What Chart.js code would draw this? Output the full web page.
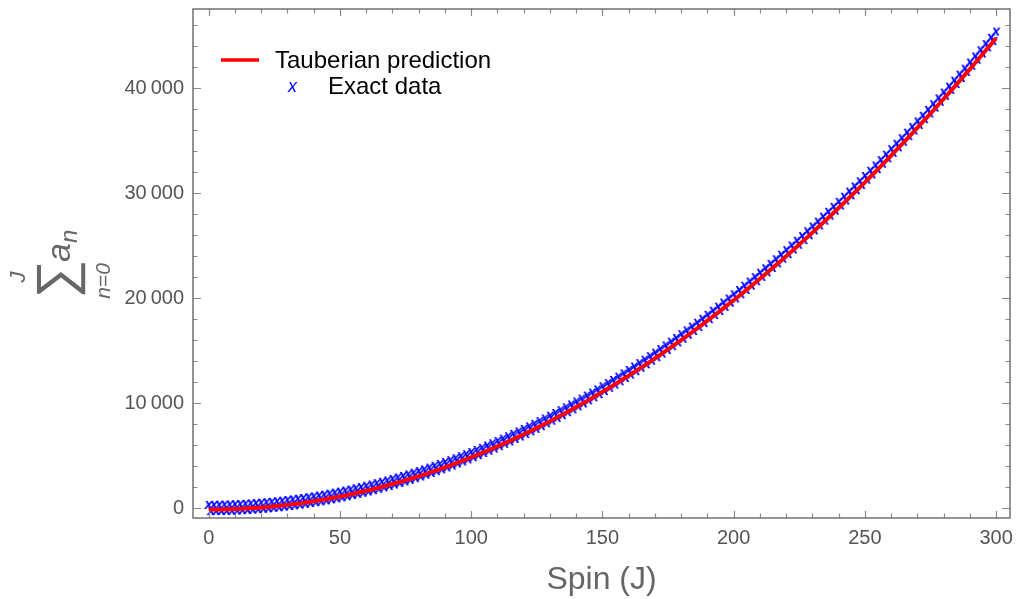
<!DOCTYPE html>
<html>
<head>
<meta charset="utf-8">
<script src="https://cdn.jsdelivr.net/npm/chart.js@4.4.0/dist/chart.umd.min.js"></script>
<style>
  html, body { margin: 0; padding: 0; background: #fff; }
  #wrap { width: 1016px; height: 599px; }
</style>
</head>
<body>
<div id="wrap"><canvas id="chart" width="1016" height="599"></canvas></div>
<script>
// Tauberian prediction, sampled every 5 in spin
const predictionSpin = [0, 5, 10, 15, 20, 25, 30, 35, 40, 45, 50, 55, 60, 65, 70, 75, 80, 85, 90, 95,
  100, 105, 110, 115, 120, 125, 130, 135, 140, 145, 150, 155, 160, 165, 170, 175, 180, 185, 190, 195,
  200, 205, 210, 215, 220, 225, 230, 235, 240, 245, 250, 255, 260, 265, 270, 275, 280, 285, 290, 295, 300];
const predictionSum = [-140, -129, -93, -32, 54, 165, 301, 462, 648, 859, 1095, 1356, 1642, 1953, 2289, 2650, 3036, 3447, 3883, 4344,
  4830, 5341, 5877, 6438, 7024, 7635, 8271, 8932, 9618, 10329, 11065, 11826, 12612, 13423, 14259, 15120, 16006, 16917, 17853, 18814,
  19800, 20811, 21847, 22908, 23994, 25105, 26241, 27402, 28588, 29799, 31035, 32296, 33582, 34893, 36229, 37590, 38976, 40387, 41823, 43284, 44770];

// Exact partial sums, one per spin J = 0 .. 300
const exactSum = [
  300, -299, 303, -294, 309, -286, 320, -273, 335, -256,
  353, -236, 376, -211, 403, -182, 433, -150, 468, -113,
  507, -72, 549, -28, 596, 21, 647, 74, 701, 130,
  760, 191, 823, 256, 889, 324, 960, 397, 1035, 474,
  1113, 554, 1196, 639, 1283, 728, 1373, 820, 1468, 917,
  1567, 1018, 1669, 1122, 1776, 1231, 1887, 1344, 2001, 1460,
  2120, 1581, 2243, 1706, 2369, 1834, 2500, 1967, 2635, 2104,
  2773, 2244, 2916, 2389, 3063, 2538, 3213, 2690, 3368, 2847,
  3527, 3008, 3689, 3172, 3856, 3341, 4027, 3514, 4201, 3690,
  4380, 3871, 4563, 4056, 4749, 4244, 4940, 4437, 5135, 4634,
  5333, 4834, 5536, 5039, 5743, 5248, 5953, 5460, 6168, 5677,
  6387, 5898, 6609, 6122, 6836, 6351, 7067, 6584, 7301, 6820,
  7540, 7061, 7783, 7306, 8029, 7554, 8280, 7807, 8535, 8064,
  8793, 8324, 9056, 8589, 9323, 8858, 9593, 9130, 9868, 9407,
  10147, 9688, 10429, 9972, 10716, 10261, 11007, 10554, 11301, 10850,
  11600, 11151, 11903, 11456, 12209, 11764, 12520, 12077, 12835, 12394,
  13153, 12714, 13476, 13039, 13803, 13368, 14133, 13700, 14468, 14037,
  14807, 14378, 15149, 14722, 15496, 15071, 15847, 15424, 16201, 15780,
  16560, 16141, 16923, 16506, 17289, 16874, 17660, 17247, 18035, 17624,
  18413, 18004, 18796, 18389, 19183, 18778, 19573, 19170, 19968, 19567,
  20367, 19968, 20769, 20372, 21176, 20781, 21587, 21194, 22001, 21610,
  22420, 22031, 22843, 22456, 23269, 22884, 23700, 23317, 24135, 23754,
  24573, 24194, 25016, 24639, 25463, 25088, 25913, 25540, 26368, 25997,
  26827, 26458, 27289, 26922, 27756, 27391, 28227, 27864, 28701, 28340,
  29180, 28821, 29663, 29306, 30149, 29794, 30640, 30287, 31135, 30784,
  31633, 31284, 32136, 31789, 32643, 32298, 33153, 32810, 33668, 33327,
  34187, 33848, 34709, 34372, 35236, 34901, 35767, 35434, 36301, 35970,
  36840, 36511, 37383, 37056, 37929, 37604, 38480, 38157, 39035, 38714,
  39593, 39274, 40156, 39839, 40723, 40408, 41293, 40980, 41868, 41557,
  42447, 42138, 43029, 42722, 43616, 43311, 44207, 43904, 44801, 44500,
  45400
];
const exactSpin = exactSum.map((_, j) => j);

const xTicks = [0, 50, 100, 150, 200, 250, 300];
const yTicks = [0, 10000, 20000, 30000, 40000];
const seriesNames = ['Tauberian prediction', 'Exact data'];
const xTitle = 'Spin (J)';

const FONT = '"Liberation Sans", Arial, Helvetica, sans-serif';
const GRAY = '#676767';

// blue italic "x" used as the point marker
function makeMarker(size) {
  const c = document.createElement('canvas');
  c.width = 14; c.height = 14;
  const g = c.getContext('2d');
  g.fillStyle = '#0000ff';
  g.font = 'italic bold ' + size + 'px ' + FONT;
  g.textAlign = 'center';
  g.textBaseline = 'alphabetic';
  g.fillText('x', 7, 7 + size * 0.26);
  return c;
}
const marker = makeMarker(15);

const fmt = v => v === 0 ? '0' : String(v).replace(/\B(?=(\d{3})+(?!\d))/g, '\u2009');

// Mathematica-style frame with inward ticks, legend and the y label
const decorations = {
  id: 'decorations',
  afterDatasetsDraw(chart) {
    const ctx = chart.ctx;
    const xs = chart.scales.x, ys = chart.scales.y;
    const { left, right, top, bottom } = chart.chartArea;
    ctx.save();
    ctx.strokeStyle = '#8a8a8a';
    ctx.lineWidth = 1.2;
    ctx.beginPath();
    for (let v = 0; v <= 300; v += 10) {
      const px = Math.round(xs.getPixelForValue(v)) + 0.5;
      const len = v % 50 === 0 ? 7 : 4.5;
      ctx.moveTo(px, bottom); ctx.lineTo(px, bottom - len);
      ctx.moveTo(px, top); ctx.lineTo(px, top + len);
    }
    for (let v = 0; v <= 46000; v += 2000) {
      const py = Math.round(ys.getPixelForValue(v)) + 0.5;
      const len = v % 10000 === 0 ? 8 : 4.5;
      ctx.moveTo(left, py); ctx.lineTo(left + len, py);
      ctx.moveTo(right, py); ctx.lineTo(right - len, py);
    }
    ctx.stroke();
    ctx.strokeStyle = GRAY;
    ctx.lineWidth = 1.4;
    ctx.strokeRect(left, top, right - left, bottom - top);

    // legend
    ctx.strokeStyle = '#ff0000';
    ctx.lineWidth = 3.5;
    ctx.beginPath(); ctx.moveTo(221, 60); ctx.lineTo(259, 60); ctx.stroke();
    ctx.fillStyle = '#000';
    ctx.font = '24px ' + FONT;
    ctx.textAlign = 'left';
    ctx.textBaseline = 'alphabetic';
    ctx.fillText(seriesNames[0], 275, 68);
    ctx.fillText(seriesNames[1], 328, 94);
    ctx.fillStyle = '#0000ff';
    ctx.font = 'italic 18px ' + FONT;
    ctx.fillText('x', 288, 92);

    // y label: sum_{n=0}^{J} a_n, rotated
    ctx.translate(60, 265);
    ctx.rotate(-Math.PI / 2);
    ctx.fillStyle = GRAY;
    ctx.textAlign = 'center';
    ctx.textBaseline = 'middle';
    ctx.font = '200 54px "DejaVu Sans", sans-serif';
    ctx.fillText('\u2211', -14, 0);
    ctx.textBaseline = 'alphabetic';
    ctx.font = 'italic 22px ' + FONT;
    ctx.fillText('J', -12, -35);
    ctx.font = 'italic 21px ' + FONT;
    ctx.fillText('n=0', -16, 50);
    ctx.textAlign = 'left';
    ctx.font = 'italic 34px ' + FONT;
    ctx.fillText('a', 3, 10);
    ctx.font = 'italic 24px ' + FONT;
    ctx.fillText('n', 22, 17);
    ctx.restore();
  }
};

new Chart(document.getElementById('chart'), {
  type: 'scatter',
  data: {
    datasets: [
      {
        label: seriesNames[0],
        data: predictionSpin.map((j, i) => ({ x: j, y: predictionSum[i] })),
        showLine: true,
        borderColor: '#ff0000',
        borderWidth: 4,
        pointRadius: 0,
        tension: 0.3
      },
      {
        label: seriesNames[1],
        data: exactSpin.map((j, i) => ({ x: j, y: exactSum[i] })),
        showLine: false,
        pointStyle: marker,
        pointRadius: 5
      }
    ]
  },
  options: {
    responsive: false,
    animation: false,
    layout: { padding: { top: 9, right: 2, left: 0, bottom: 0 } },
    plugins: { legend: { display: false }, tooltip: { enabled: false } },
    scales: {
      x: {
        type: 'linear',
        min: -6, max: 305.3,
        grid: { display: false, drawTicks: false },
        border: { display: false },
        afterBuildTicks(s) { s.ticks = xTicks.map(v => ({ value: v })); },
        ticks: { autoSkip: false, maxRotation: 0, padding: 8,
          color: '#555', font: { family: FONT, size: 20 }, callback: fmt },
        title: { display: true, text: xTitle, color: '#666', font: { family: FONT, size: 32 }, padding: { top: 0, bottom: 0 } },
        afterFit(s) { s.height = 81; s.paddingLeft = 0; s.paddingRight = 0; }
      },
      y: {
        type: 'linear',
        min: -950, max: 47550,
        grid: { display: false, drawTicks: false },
        border: { display: false },
        afterBuildTicks(s) { s.ticks = yTicks.map(v => ({ value: v })); },
        ticks: { autoSkip: false, padding: 9,
          color: '#555', font: { family: FONT, size: 20 }, callback: fmt },
        afterFit(s) { s.width = 193; s.paddingTop = 0; s.paddingBottom = 0; }
      }
    }
  },
  plugins: [decorations]
});
</script>
</body>
</html>
